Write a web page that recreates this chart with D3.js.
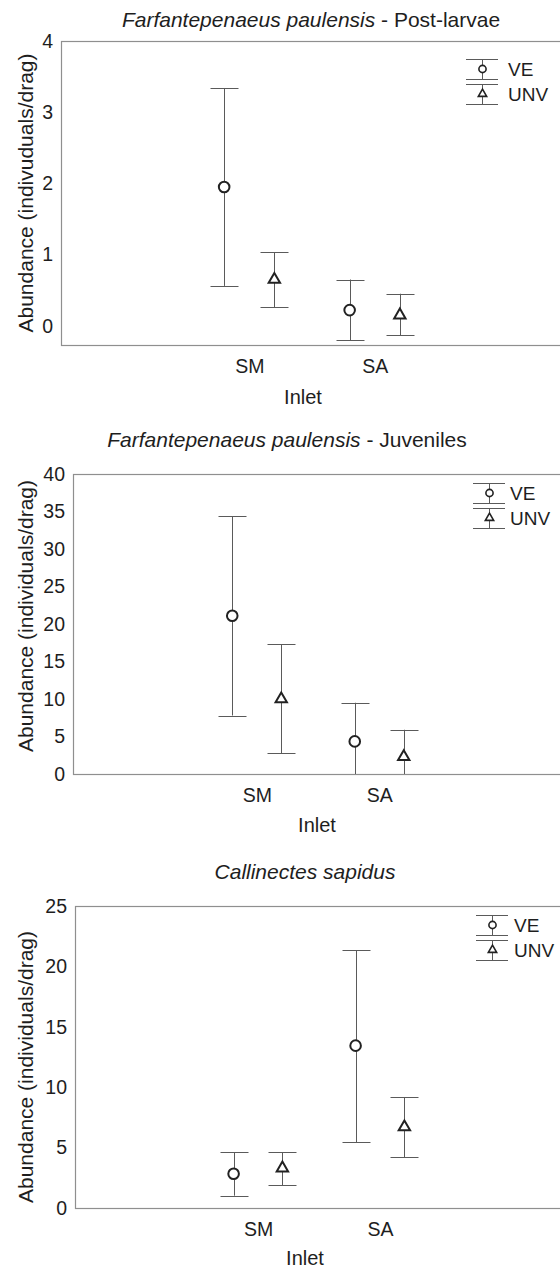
<!DOCTYPE html>
<html>
<head>
<meta charset="utf-8">
<script src="https://cdn.jsdelivr.net/npm/d3@7/dist/d3.min.js"></script>
<style>
  body { margin: 0; background: #fff; }
  text { font-family: "Liberation Sans", Arial, sans-serif; fill: #1e1e1e; }
</style>
</head>
<body>
<div id="wrapper"></div>
<script>
// categories and groups
const inlets = ["SM", "SA"]
const groups = ["VE", "UNV"]

// mean with lower / upper error bar
const postLarvae = [
  { inlet: "SM", group: "VE",  mean: 1.95, low: 0.56,  high: 3.34 },
  { inlet: "SM", group: "UNV", mean: 0.65, low: 0.26,  high: 1.03 },
  { inlet: "SA", group: "VE",  mean: 0.22, low: -0.20, high: 0.65 },
  { inlet: "SA", group: "UNV", mean: 0.15, low: -0.13, high: 0.45 },
]
const juveniles = [
  { inlet: "SM", group: "VE",  mean: 21.1, low: 7.8,  high: 34.4 },
  { inlet: "SM", group: "UNV", mean: 10.0, low: 2.8,  high: 17.3 },
  { inlet: "SA", group: "VE",  mean: 4.35, low: -0.8, high: 9.5 },
  { inlet: "SA", group: "UNV", mean: 2.3,  low: -1.3, high: 5.9 },
]
const crabs = [
  { inlet: "SM", group: "VE",  mean: 2.84,  low: 1.02, high: 4.63 },
  { inlet: "SM", group: "UNV", mean: 3.3,   low: 1.87, high: 4.63 },
  { inlet: "SA", group: "VE",  mean: 13.44, low: 5.43, high: 21.33 },
  { inlet: "SA", group: "UNV", mean: 6.7,   low: 4.19, high: 9.19 },
]

// tick labels
const postLarvaeTicks = [0, 1, 2, 3, 4]
const juvenilesTicks = [0, 5, 10, 15, 20, 25, 30, 35, 40]
const crabsTicks = [0, 5, 10, 15, 20, 25]

const panels = [
  { data: postLarvae, ticks: postLarvaeTicks, domain: [-0.27, 4.0],
    species: "Farfantepenaeus paulensis", suffix: " - Post-larvae",
    yLabel: "Abundance (indivuduals/drag)",
    top: 41, bottom: 345, left: 61, right: 563,
    titleX: 311, titleY: 27, inletX: 303, inletY: 404, yLabelY: 193,
    legendX: 482, legendY: 59, legendDx: 26 },
  { data: juveniles, ticks: juvenilesTicks, domain: [0, 40],
    species: "Farfantepenaeus paulensis", suffix: " - Juveniles",
    yLabel: "Abundance (individuals/drag)",
    top: 474, bottom: 774, left: 73, right: 563,
    titleX: 287, titleY: 447, inletX: 317, inletY: 832, yLabelY: 616,
    legendX: 489, legendY: 483, legendDx: 21 },
  { data: crabs, ticks: crabsTicks, domain: [0, 25],
    species: "Callinectes sapidus", suffix: "",
    yLabel: "Abundance (individuals/drag)",
    top: 906, bottom: 1208, left: 75, right: 563,
    titleX: 305, titleY: 879, inletX: 305, inletY: 1265, yLabelY: 1067,
    legendX: 492, legendY: 915, legendDx: 22 },
]

const boxColor = "#8f8f8f"
const barColor = "#5a5a5a"
const markColor = "#222"

const svg = d3.select("#wrapper")
  .append("svg")
    .attr("width", 560)
    .attr("height", 1268)

const triangleSym = d3.symbol().type(d3.symbolTriangle)

function drawMarker(sel, group, big){
  if (group === "VE") {
    sel.append("circle")
      .attr("r", big ? 5.3 : 3.6)
  } else {
    sel.append("path")
      .attr("d", triangleSym.size(big ? 56 : 30)())
  }
  sel.selectAll("circle, path")
    .attr("fill", "#fff")
    .attr("stroke", markColor)
    .attr("stroke-width", big ? 2 : 1.6)
}

panels.forEach((p, idx) => {
  const g = svg.append("g")

  const yScale = d3.scaleLinear()
    .domain(p.domain)
    .range([p.bottom, p.top])

  const xScale = d3.scalePoint()
    .domain(inlets)
    .range([p.left, p.right])
    .padding(1.5)

  const offset = d3.scalePoint()
    .domain(groups)
    .range([-0.2 * xScale.step(), 0.2 * xScale.step()])

  // title
  const title = g.append("text")
    .attr("x", p.titleX)
    .attr("y", p.titleY)
    .attr("text-anchor", "middle")
    .style("font-size", "21px")
  title.append("tspan").style("font-style", "italic").text(p.species)
  if (p.suffix) title.append("tspan").text(p.suffix)

  // plot frame
  g.append("rect")
    .attr("x", p.left + 0.5)
    .attr("y", p.top + 0.5)
    .attr("width", p.right - p.left)
    .attr("height", p.bottom - p.top)
    .attr("fill", "none")
    .attr("stroke", boxColor)
    .attr("stroke-width", 1.2)

  const clipId = "clip" + idx
  g.append("clipPath").attr("id", clipId)
    .append("rect")
      .attr("x", p.left)
      .attr("y", p.top)
      .attr("width", p.right - p.left)
      .attr("height", p.bottom - p.top)

  // y axis
  const yAxis = g.append("g")
    .attr("transform", `translate(${p.left},0)`)
    .call(d3.axisLeft(yScale).tickValues(p.ticks).tickSize(0).tickPadding(8).tickFormat(d3.format("d")))
  yAxis.select(".domain").remove()
  yAxis.selectAll("text")
    .style("font-size", "19.5px")
    .attr("fill", "#1e1e1e")
    .style("font-family", "'Liberation Sans', Arial, sans-serif")

  // x axis
  const xAxis = g.append("g")
    .attr("transform", `translate(0,${p.bottom})`)
    .call(d3.axisBottom(xScale).tickSize(0).tickPadding(14))
  xAxis.select(".domain").remove()
  xAxis.selectAll("text")
    .style("font-size", "19.5px")
    .attr("fill", "#1e1e1e")
    .style("font-family", "'Liberation Sans', Arial, sans-serif")

  g.append("text")
    .attr("x", p.inletX)
    .attr("y", p.inletY)
    .attr("text-anchor", "middle")
    .style("font-size", "20px")
    .text("Inlet")

  g.append("text")
    .attr("transform", `translate(33,${p.yLabelY}) rotate(-90)`)
    .attr("text-anchor", "middle")
    .style("font-size", "21px")
    .text(p.yLabel)

  // error bars
  const bars = g.append("g").attr("clip-path", `url(#${clipId})`)
    .selectAll("g")
    .data(p.data)
    .join("g")
      .attr("transform", d => `translate(${Math.round(xScale(d.inlet) + offset(d.group)) + 0.5},0)`)
      .attr("stroke", barColor)
      .attr("stroke-width", 1)

  bars.append("line")
    .attr("y1", d => yScale(d.low))
    .attr("y2", d => yScale(d.high))
  bars.append("line")
    .attr("x1", -14).attr("x2", 14)
    .attr("y1", d => Math.round(yScale(d.high)) + 0.5)
    .attr("y2", d => Math.round(yScale(d.high)) + 0.5)
  bars.append("line")
    .attr("x1", -14).attr("x2", 14)
    .attr("y1", d => Math.round(yScale(d.low)) + 0.5)
    .attr("y2", d => Math.round(yScale(d.low)) + 0.5)

  // markers
  g.append("g")
    .selectAll("g")
    .data(p.data)
    .join("g")
      .attr("transform", d => `translate(${xScale(d.inlet) + offset(d.group)},${yScale(d.mean)})`)
      .each(function(d){ drawMarker(d3.select(this), d.group, true) })

  // legend
  const legend = g.append("g")
    .attr("transform", `translate(${p.legendX},${p.legendY})`)
  groups.forEach((name, i) => {
    const item = legend.append("g")
      .attr("transform", `translate(0,${i * 25})`)
    item.append("line").attr("x1", -16).attr("x2", 16).attr("y1", 0.5).attr("y2", 0.5)
      .attr("stroke", barColor)
    item.append("line").attr("x1", -16).attr("x2", 16).attr("y1", 20.5).attr("y2", 20.5)
      .attr("stroke", barColor)
    item.append("line").attr("x1", 0.5).attr("x2", 0.5).attr("y1", 0).attr("y2", 20)
      .attr("stroke", barColor)
    const m = item.append("g").attr("transform", "translate(0.5,10)")
    drawMarker(m, name, false)
    item.append("text")
      .attr("x", p.legendDx)
      .attr("y", 10)
      .attr("dy", "0.35em")
      .style("font-size", "19px")
      .text(name)
  })
})
</script>
</body>
</html>
